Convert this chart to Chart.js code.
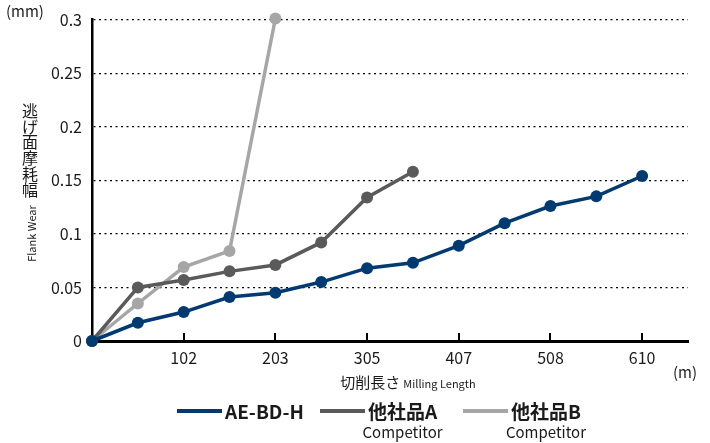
<!DOCTYPE html>
<html><head><meta charset="utf-8">
<script src="https://cdn.jsdelivr.net/npm/chart.js@4/dist/chart.umd.min.js"></script>
<style>html,body{margin:0;padding:0;background:#fff}#wrap{width:710px;height:443px;position:relative}</style>
</head><body><div id="wrap"><canvas id="c" width="710" height="443"></canvas></div>
<script>
// Milling length categories (m); every other one is labelled
const lengthLabels = ['0','51','102','152','203','254','305','356','407','457','508','559','610',''];
const tickLabels = ['102','203','305','407','508','610'];
const yTicks = [0, 0.05, 0.1, 0.15, 0.2, 0.25, 0.3];
// Flank wear (mm)
const aeBdH = [0, 0.017, 0.027, 0.041, 0.045, 0.055, 0.068, 0.073, 0.089, 0.110, 0.126, 0.135, 0.154];
const competitorA = [0, 0.050, 0.057, 0.065, 0.071, 0.092, 0.134, 0.158];
const competitorB = [0, 0.035, 0.069, 0.084, 0.301];
const seriesNames = ['AE-BD-H', '他社品A', '他社品B'];
const seriesSubNames = ['', 'Competitor', 'Competitor'];
const seriesColors = ['#003a70', '#5a5a5a', '#a6a6a6'];
const yTitleJa = '逃げ面摩耗幅';
const yTitleEn = 'Flank Wear';
const yUnit = '(mm)';
const xTitleJa = '切削長さ';
const xTitleEn = 'Milling Length';
const xUnit = '(m)';

const FONT = '"Noto Sans CJK JP", "Noto Sans", sans-serif';
Chart.defaults.font.family = FONT;
Chart.defaults.color = '#1a1a1a';

const seriesData = [aeBdH, competitorA, competitorB];

const decor = {
  id: 'decor',
  afterDraw(chart) {
    const ctx = chart.ctx;
    ctx.save();
    ctx.fillStyle = '#1a1a1a';
    // y unit
    ctx.font = '15px ' + FONT;
    ctx.textAlign = 'left'; ctx.textBaseline = 'middle';
    ctx.fillText(yUnit, 6, 11);
    // y title (vertical Japanese)
    ctx.textAlign = 'center';
    ctx.font = '16px ' + FONT;
    const chars = Array.from(yTitleJa);
    chars.forEach((c, i) => ctx.fillText(c, 30, 111 + i * 15.7));
    ctx.save();
    ctx.translate(31.5, 233.5);
    ctx.rotate(-Math.PI / 2);
    ctx.font = '11px ' + FONT;
    ctx.fillText(yTitleEn, 0, 0);
    ctx.restore();
    // x title
    ctx.textAlign = 'left'; ctx.textBaseline = 'alphabetic';
    ctx.font = '15px ' + FONT;
    const wJa = ctx.measureText(xTitleJa).width;
    ctx.font = '11px ' + FONT;
    const wEn = ctx.measureText(xTitleEn).width;
    const total = wJa + 3 + wEn;
    const x0 = 408 - total / 2;
    ctx.font = '15px ' + FONT;
    ctx.fillText(xTitleJa, x0, 388);
    ctx.font = '11px ' + FONT;
    ctx.fillText(xTitleEn, x0 + wJa + 3, 388);
    // x unit
    ctx.font = '15px ' + FONT;
    ctx.textBaseline = 'middle';
    ctx.fillText(xUnit, 673, 372);
    // legend
    const starts = [177, 320, 463];
    chart.data.datasets.forEach((ds, i) => {
      const lx = starts[i];
      ctx.strokeStyle = ds.borderColor;
      ctx.lineWidth = 4;
      ctx.beginPath(); ctx.moveTo(lx, 411); ctx.lineTo(lx + 45, 411); ctx.stroke();
      ctx.fillStyle = '#1a1a1a';
      ctx.font = 'bold 19px ' + FONT;
      ctx.textAlign = 'left'; ctx.textBaseline = 'middle';
      const tx = lx + 48;
      ctx.fillText(seriesNames[i], tx, 412);
      const w = ctx.measureText(seriesNames[i]).width;
      if (seriesSubNames[i]) {
        ctx.font = '15px ' + FONT;
        ctx.textAlign = 'center';
        ctx.fillText(seriesSubNames[i], tx + w / 2, 432);
      }
    });
    ctx.restore();
  }
};

new Chart(document.getElementById('c'), {
  type: 'line',
  data: {
    labels: lengthLabels,
    datasets: seriesNames.map((n, i) => ({
      label: n,
      data: seriesData[i],
      borderColor: seriesColors[i],
      backgroundColor: seriesColors[i],
      pointBackgroundColor: seriesColors[i],
      pointBorderWidth: 0,
      pointRadius: 6,
      borderWidth: 3.5,
      tension: 0,
      fill: false,
      clip: false
    }))
  },
  options: {
    responsive: false,
    animation: false,
    devicePixelRatio: 1,
    layout: { padding: { top: 18, right: 22, left: 0, bottom: 0 } },
    plugins: { legend: { display: false }, tooltip: { enabled: false } },
    scales: {
      x: {
        type: 'category',
        offset: false,
        border: { display: true, color: '#000', width: 3 },
        grid: {
          drawOnChartArea: false,
          drawTicks: true,
          tickLength: -8,
          lineWidth: 2,
          color: (c) => tickLabels.includes(lengthLabels[c.index]) ? '#000' : 'rgba(0,0,0,0)'
        },
        ticks: {
          autoSkip: false,
          maxRotation: 0,
          padding: 15,
          color: '#1a1a1a',
          font: { size: 16 },
          callback: (v, i) => tickLabels.includes(lengthLabels[i]) ? lengthLabels[i] : ''
        },
        afterFit: (s) => { s.height = 102; }
      },
      y: {
        min: 0, max: 0.3,
        border: { display: true, color: '#000', width: 2.5, dash: [2, 3.5] },
        grid: {
          color: '#000', lineWidth: 1.3, drawTicks: false, tickLength: 0
        },
        afterBuildTicks: (s) => { s.ticks = yTicks.map(v => ({ value: v })); },
        ticks: {
          padding: 10,
          color: '#1a1a1a',
          font: { size: 16 },
          callback: (v) => String(+Number(v).toFixed(2))
        },
        afterFit: (s) => { s.width = 92; }
      }
    }
  },
  plugins: [decor]
});
</script>
</body></html>
